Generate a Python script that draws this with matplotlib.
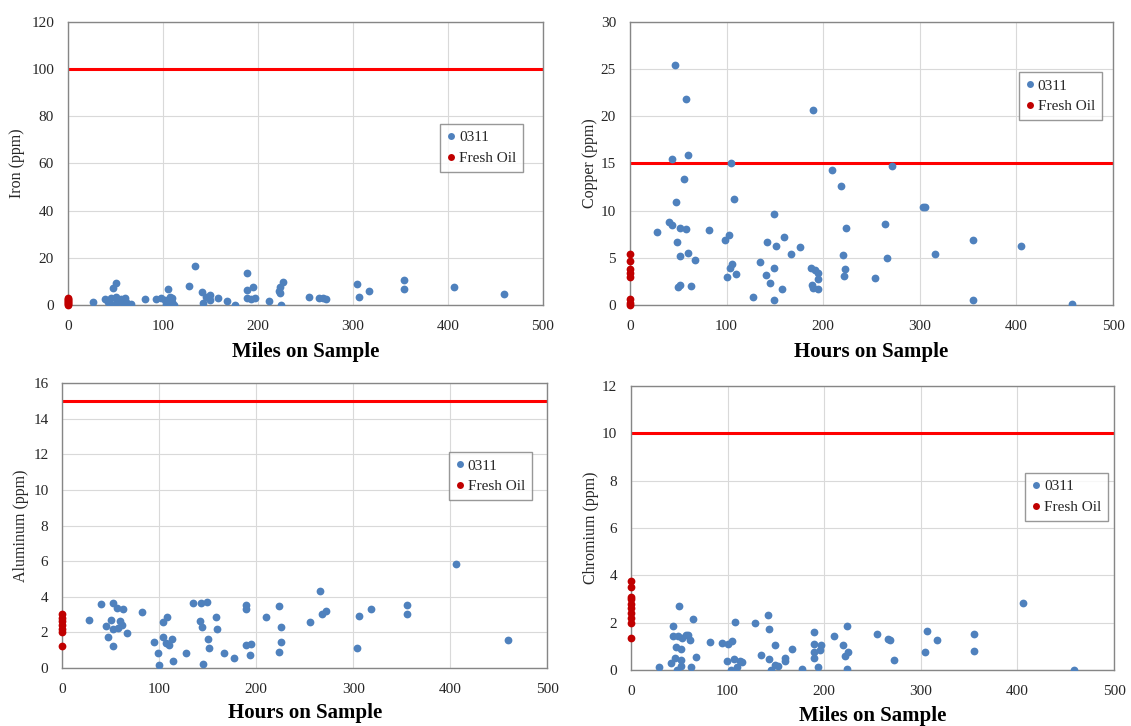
import matplotlib.pyplot as plt
from matplotlib.lines import Line2D

plt.rcParams['font.family'] = ['Liberation Serif', 'DejaVu Serif']

BLUE = "#4F81BD"
DARK_RED = "#C00000"
LIMIT_RED = "#FF0000"
GRID = "#D9D9D9"
SPINE = "#868686"
TXT = "#262626"

# ---- Iron (miles on sample) ----
iron_x = [26, 39, 42, 46, 47, 51, 45, 51, 52, 56, 60, 61, 58, 66, 81, 93, 98, 102,
          105, 107, 109, 110, 112, 103, 127, 134, 141, 142, 145, 149, 150, 158, 167,
          176, 188, 188, 188, 193, 195, 197, 212, 222, 223, 226, 223, 224, 254, 264,
          268, 272, 304, 306, 317, 354, 354, 406, 459]
iron_y = [1.4, 2.5, 1.4, 0.0, 7.0, 9.2, 2.8, 3.5, 1.4, 2.5, 2.8, 1.4, 0.7, 0.3, 2.4,
          2.4, 2.8, 2.1, 6.6, 3.5, 1.4, 3.1, 0.0, 0.3, 8.2, 16.6, 5.4, 1.0, 3.5, 4.2,
          2.1, 2.8, 1.7, 0.0, 13.4, 6.3, 2.8, 2.5, 7.5, 2.8, 1.7, 5.9, 7.7, 9.6, 4.9,
          0.0, 3.2, 2.8, 2.8, 2.5, 8.7, 3.2, 6.1, 10.6, 6.8, 7.5, 4.5]
iron_fresh = [0.0, 0.4, 0.8, 1.2, 1.6, 2.0, 2.4, 2.8]

# ---- Copper (hours on sample) ----
copper_x = [28, 40, 44, 44, 47, 48, 49, 52, 52, 50, 52, 56, 58, 58, 60, 60, 63, 67,
            82, 98, 103, 100, 105, 104, 106, 108, 110, 127, 135, 141, 142, 145, 149,
            149, 149, 151, 157, 159, 167, 176, 189, 187, 188, 189, 192, 195, 195, 195,
            209, 218, 221, 222, 223, 224, 254, 264, 266, 271, 303, 305, 316, 355, 355,
            405, 458]
copper_y = [7.7, 8.8, 8.5, 15.5, 25.4, 10.9, 6.7, 8.2, 5.2, 1.9, 2.1, 13.4, 21.8, 8.1,
            15.9, 5.5, 2.0, 4.8, 7.9, 6.9, 7.4, 3.0, 15.0, 3.9, 4.3, 11.2, 3.3, 0.85,
            4.6, 3.2, 6.7, 2.3, 0.5, 3.9, 9.6, 6.3, 1.7, 7.2, 5.4, 6.1, 20.7, 3.9, 2.1,
            1.8, 3.7, 3.4, 1.7, 2.8, 14.3, 12.6, 5.3, 3.1, 3.8, 8.2, 2.9, 8.6, 5.0,
            14.7, 10.4, 10.4, 5.4, 6.9, 0.5, 6.3, 0.07]
copper_fresh = [0.0, 0.25, 0.6, 3.0, 3.4, 3.8, 4.65, 5.4]

# ---- Aluminum (hours on sample) ----
alum_x = [28, 40, 45, 47, 50, 52, 52, 52, 56, 57, 59, 62, 63, 67, 82, 95, 99, 100,
          104, 104, 107, 108, 110, 113, 114, 128, 135, 142, 143, 144, 145, 149, 150,
          151, 158, 159, 167, 177, 189, 189, 189, 194, 195, 210, 223, 223, 225, 225,
          255, 266, 268, 272, 304, 306, 318, 355, 355, 406, 459]
alum_y = [2.69, 3.57, 2.37, 1.71, 2.69, 3.63, 1.24, 2.16, 3.35, 2.22, 2.63, 2.41, 3.31,
          1.94, 3.14, 1.43, 0.85, 0.15, 2.59, 1.71, 1.37, 2.88, 1.26, 1.64, 0.38, 0.85,
          3.63, 2.65, 3.63, 2.27, 0.19, 3.68, 1.60, 1.13, 2.88, 2.18, 0.81, 0.56, 3.51,
          3.31, 1.28, 0.71, 1.32, 2.88, 3.48, 0.86, 2.31, 1.43, 2.59, 4.34, 3.00, 3.20,
          1.09, 2.93, 3.31, 3.53, 3.03, 5.83, 1.58]
alum_fresh = [1.22, 2.0, 2.2, 2.4, 2.6, 2.8, 3.0]

# ---- Chromium (miles on sample) ----
chrom_x = [29, 41, 44, 44, 46, 47, 48, 50, 49, 52, 52, 52, 53, 57, 59, 61, 62, 64, 67,
           82, 94, 100, 99, 105, 104, 107, 108, 110, 113, 115, 128, 135, 142, 143, 143,
           145, 149, 149, 152, 159, 159, 167, 177, 189, 189, 189, 189, 194, 196, 197,
           210, 219, 222, 224, 224, 225, 255, 266, 268, 272, 304, 306, 317, 355, 355,
           406, 459]
chrom_y = [0.14, 0.28, 1.86, 1.42, 0.51, 0.99, 0.0, 2.70, 1.42, 0.89, 0.43, 0.18, 1.36,
           1.46, 1.50, 1.25, 0.14, 2.14, 0.57, 1.18, 1.13, 1.08, 0.40, 1.22, 0.0, 0.47,
           2.03, 0.14, 0.40, 0.33, 1.99, 0.65, 2.34, 1.72, 0.47, 0.0, 1.04, 0.23, 0.18,
           0.40, 0.51, 0.89, 0.04, 1.60, 0.51, 0.75, 1.10, 0.14, 0.85, 1.04, 1.42, 1.04,
           0.58, 1.86, 0.04, 0.78, 1.53, 1.32, 1.25, 0.44, 0.78, 1.65, 1.25, 1.53, 0.79,
           2.85, 0.0]
chrom_fresh = [1.36, 2.0, 2.2, 2.4, 2.6, 2.8, 3.0, 3.1, 3.52, 3.77]


def draw_panel(ax, xs, ys, fresh, limit, ymax, ystep, ylabel, xlabel,
               legend_anchor, ylabel_x, xlabel_y):
    ax.set_xlim(0, 500)
    ax.set_ylim(0, ymax)
    ax.set_xticks(range(0, 501, 100))
    ax.set_yticks([v * ystep for v in range(int(round(ymax / ystep)) + 1)])
    ax.grid(True, color=GRID, linewidth=0.8, zorder=0)
    ax.set_axisbelow(True)
    for s in ax.spines.values():
        s.set_color(SPINE)
        s.set_linewidth(1.0)
    ax.tick_params(length=0, labelsize=11, colors=TXT)
    ax.tick_params(axis="x", pad=11)
    ax.tick_params(axis="y", pad=10)

    ax.axhline(limit, color=LIMIT_RED, linewidth=2.2, zorder=2)
    ax.plot(xs, ys, "o", color=BLUE, markersize=5.6, markeredgewidth=0, zorder=3)
    ax.plot([0] * len(fresh), fresh, "o", color=DARK_RED, markersize=5.6,
            markeredgewidth=0, zorder=4, clip_on=False)

    ax.set_ylabel(ylabel, fontsize=11.5, color=TXT)
    ax.yaxis.set_label_coords(ylabel_x, 0.5)
    ax.set_xlabel(xlabel, fontsize=15, fontweight="bold", color="black")
    ax.xaxis.set_label_coords(0.5, xlabel_y)

    handles = [
        Line2D([], [], linestyle="none", marker="o", color=BLUE, markersize=5,
               markeredgewidth=0, label="0311"),
        Line2D([], [], linestyle="none", marker="o", color=DARK_RED, markersize=5,
               markeredgewidth=0, label="Fresh Oil"),
    ]
    leg = ax.legend(handles=handles, loc="upper right", bbox_to_anchor=legend_anchor,
                    fontsize=11, frameon=True, fancybox=False, borderaxespad=0,
                    handlelength=0.6, handletextpad=0.2, borderpad=0.45,
                    labelspacing=0.45)
    leg.get_frame().set_edgecolor("#7F7F7F")
    leg.get_frame().set_linewidth(1.0)
    for t in leg.get_texts():
        t.set_color(TXT)


fig = plt.figure(figsize=(11.31, 7.26), dpi=100)

ax_fe = fig.add_axes([0.0601, 0.5799, 0.4200, 0.3898])
ax_cu = fig.add_axes([0.5570, 0.5799, 0.4271, 0.3898])
ax_al = fig.add_axes([0.0551, 0.0803, 0.4288, 0.3917])
ax_cr = fig.add_axes([0.5579, 0.0771, 0.4271, 0.3912])

draw_panel(ax_fe, iron_x, iron_y, iron_fresh, 100, 120, 20, "Iron (ppm)",
           "Miles on Sample", (0.958, 0.64), -0.090, -0.131)
draw_panel(ax_cu, copper_x, copper_y, copper_fresh, 15, 30, 5, "Copper (ppm)",
           "Hours on Sample", (0.977, 0.823), -0.066, -0.131)
draw_panel(ax_al, alum_x, alum_y, alum_fresh, 15, 16, 2, "Aluminum (ppm)",
           "Hours on Sample", (0.968, 0.758), -0.069, -0.124)
draw_panel(ax_cr, chrom_x, chrom_y, chrom_fresh, 10, 12, 2, "Chromium (ppm)",
           "Miles on Sample", (0.988, 0.694), -0.067, -0.128)

fig.savefig("out.png", dpi=100, facecolor="white")
